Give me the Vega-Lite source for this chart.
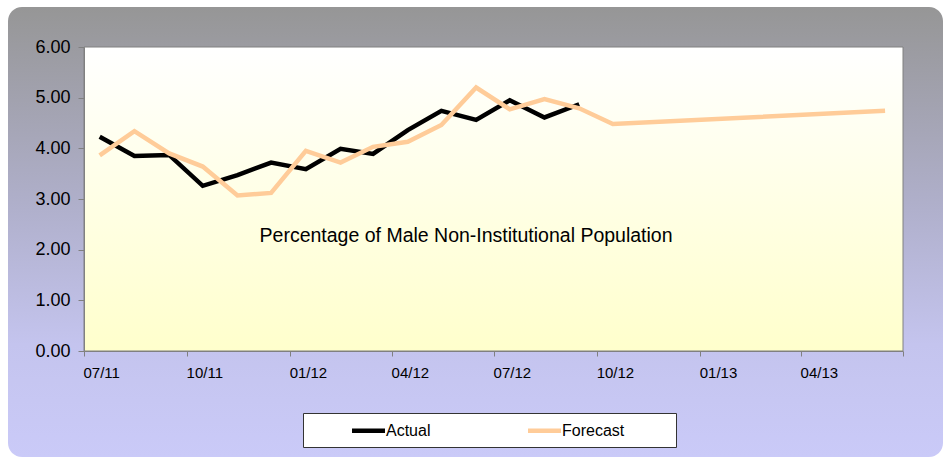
{
  "$schema": "https://vega.github.io/schema/vega-lite/v6.json",
  "width": 935,
  "height": 450,
  "padding": {"left": 8, "top": 7, "right": 0, "bottom": 2},
  "autosize": {"type": "none"},
  "background": "#FFFFFF",
  "config": {
    "font": "Liberation Sans",
    "view": {
      "stroke": null,
      "cornerRadius": 14,
      "fill": {
        "gradient": "linear", "x1": 0, "y1": 0, "x2": 0, "y2": 1,
        "stops": [
          {"offset": 0, "color": "#969696"},
          {"offset": 0.45, "color": "#B0B0CC"},
          {"offset": 0.75, "color": "#C4C4EE"},
          {"offset": 1, "color": "#CACAF8"}
        ]
      }
    }
  },
  "datasets": {
    "series": [
      {"date": "2011-07-15T00:00", "series": "Actual", "value": 4.23},
      {"date": "2011-08-15T00:00", "series": "Actual", "value": 3.85},
      {"date": "2011-09-15T00:00", "series": "Actual", "value": 3.87},
      {"date": "2011-10-15T00:00", "series": "Actual", "value": 3.26},
      {"date": "2011-11-15T00:00", "series": "Actual", "value": 3.47},
      {"date": "2011-12-15T00:00", "series": "Actual", "value": 3.72},
      {"date": "2012-01-15T00:00", "series": "Actual", "value": 3.59},
      {"date": "2012-02-15T00:00", "series": "Actual", "value": 3.99},
      {"date": "2012-03-15T00:00", "series": "Actual", "value": 3.89},
      {"date": "2012-04-15T00:00", "series": "Actual", "value": 4.36},
      {"date": "2012-05-15T00:00", "series": "Actual", "value": 4.74},
      {"date": "2012-06-15T00:00", "series": "Actual", "value": 4.56},
      {"date": "2012-07-15T00:00", "series": "Actual", "value": 4.95},
      {"date": "2012-08-15T00:00", "series": "Actual", "value": 4.61},
      {"date": "2012-09-15T00:00", "series": "Actual", "value": 4.87},
      {"date": "2011-07-15T00:00", "series": "Forecast", "value": 3.86},
      {"date": "2011-08-15T00:00", "series": "Forecast", "value": 4.34},
      {"date": "2011-09-15T00:00", "series": "Forecast", "value": 3.90},
      {"date": "2011-10-15T00:00", "series": "Forecast", "value": 3.64},
      {"date": "2011-11-15T00:00", "series": "Forecast", "value": 3.07},
      {"date": "2011-12-15T00:00", "series": "Forecast", "value": 3.12},
      {"date": "2012-01-15T00:00", "series": "Forecast", "value": 3.95},
      {"date": "2012-02-15T00:00", "series": "Forecast", "value": 3.72},
      {"date": "2012-03-15T00:00", "series": "Forecast", "value": 4.03},
      {"date": "2012-04-15T00:00", "series": "Forecast", "value": 4.13},
      {"date": "2012-05-15T00:00", "series": "Forecast", "value": 4.46},
      {"date": "2012-06-15T00:00", "series": "Forecast", "value": 5.20},
      {"date": "2012-07-15T00:00", "series": "Forecast", "value": 4.77},
      {"date": "2012-08-15T00:00", "series": "Forecast", "value": 4.97},
      {"date": "2012-09-15T00:00", "series": "Forecast", "value": 4.79},
      {"date": "2012-10-15T00:00", "series": "Forecast", "value": 4.48},
      {"date": "2013-06-15T00:00", "series": "Forecast", "value": 4.74}
    ]
  },
  "layer": [
    {
      "data": {"values": [{}]},
      "mark": {
        "type": "rect",
        "stroke": "#808080",
        "strokeWidth": 1,
        "fill": {
          "gradient": "linear", "x1": 0, "y1": 0, "x2": 0, "y2": 1,
          "stops": [
            {"offset": 0, "color": "#FFFFFF"},
            {"offset": 1, "color": "#FFFFCC"}
          ]
        }
      },
      "encoding": {
        "x": {
          "datum": {"year": 2011, "month": 7, "date": 1},
          "type": "temporal",
          "title": null,
          "scale": {
            "domain": [{"year": 2011, "month": 7, "date": 1}, {"year": 2013, "month": 7, "date": 1}],
            "range": [76, 895],
            "nice": false
          },
          "axis": {
            "orient": "bottom",
            "offset": -106,
            "zindex": 1,
            "title": null,
            "grid": false,
            "format": "%m/%y",
            "tickCount": {"interval": "month", "step": 3},
            "labelExpr": "year(datum.value) == 2013 && month(datum.value) == 6 ? '' : datum.label",
            "labelFlush": false,
            "labelOverlap": false,
            "labelAlign": "left",
            "labelOffset": -1,
            "labelFontSize": 15,
            "labelColor": "#000000",
            "labelPadding": 9,
            "tickSize": 5,
            "tickColor": "#808080",
            "domainColor": "#808080"
          }
        },
        "x2": {"datum": {"year": 2013, "month": 7, "date": 1}},
        "y": {
          "datum": 0,
          "type": "quantitative",
          "title": null,
          "scale": {"domain": [0, 6], "range": [344, 40], "nice": false, "zero": true},
          "axis": {
            "orient": "left",
            "offset": -76,
            "zindex": 1,
            "title": null,
            "grid": false,
            "values": [0, 1, 2, 3, 4, 5, 6],
            "format": ".2f",
            "labelFontSize": 18,
            "labelColor": "#000000",
            "labelPadding": 8,
            "tickSize": 6,
            "tickColor": "#808080",
            "domainColor": "#808080"
          }
        },
        "y2": {"datum": 6}
      }
    },
    {
      "data": {"name": "series"},
      "mark": {"type": "line", "strokeWidth": 4.5},
      "encoding": {
        "x": {"field": "date", "type": "temporal", "title": null},
        "y": {"field": "value", "type": "quantitative", "title": null},
        "color": {
          "field": "series",
          "type": "nominal",
          "scale": {"domain": ["Actual", "Forecast"], "range": ["#000000", "#FFCC99"]},
          "legend": {
            "orient": "none",
            "legendX": 295,
            "legendY": 406,
            "direction": "horizontal",
            "title": "\u00a0",
            "titleOrient": "right",
            "titlePadding": 45,
            "titleFontSize": 16,
            "symbolType": "M-2,0L2,0",
            "symbolSize": 272,
            "symbolStrokeWidth": 4.5,
            "symbolOffset": 48,
            "labelOffset": 7,
            "labelFontSize": 16,
            "labelColor": "#000000",
            "columnPadding": 55,
            "padding": 7,
            "fillColor": "#FFFFFF",
            "strokeColor": "#333333"
          }
        }
      }
    },
    {
      "data": {"values": [{"label": "Percentage of Male Non-Institutional Population"}]},
      "mark": {"type": "text", "fontSize": 19.5, "color": "#000000"},
      "encoding": {
        "x": {"datum": {"year": 2012, "month": 6, "date": 6}, "type": "temporal"},
        "y": {"datum": 2.27, "type": "quantitative"},
        "text": {"field": "label"}
      }
    }
  ]
}
